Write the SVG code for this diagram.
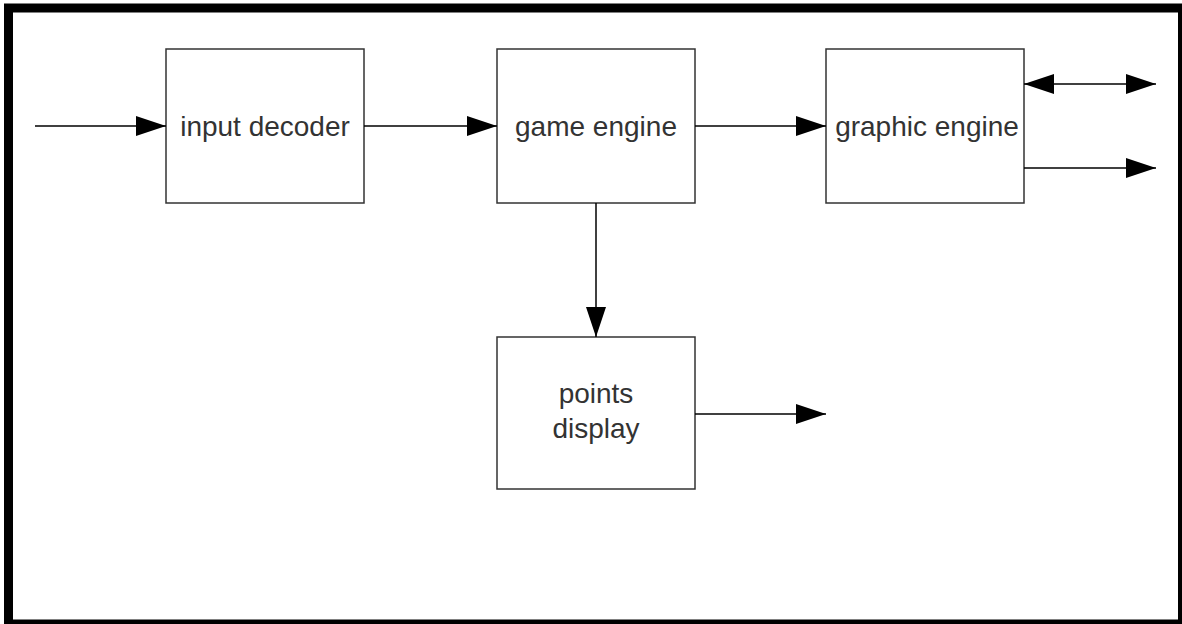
<svg xmlns="http://www.w3.org/2000/svg" width="1182" height="624" viewBox="0 0 1182 624">
<style>
.frame{fill:#fff;stroke:#000;stroke-width:9}
.box{fill:#fff;stroke:#333;stroke-width:1.5}
.lbl{font-family:"Liberation Sans",Arial,sans-serif;font-size:28px;fill:#333;text-anchor:middle}
.conn{stroke:#000;stroke-width:1.5;fill:none}
</style>
<defs>
<marker id="ah" markerUnits="userSpaceOnUse" markerWidth="30" markerHeight="20" refX="30" refY="10" orient="auto-start-reverse">
<path d="M0,0 L30,10 L0,20 Z" fill="#000"/>
</marker>
</defs>
<rect class="frame" x="8.5" y="8" width="1174" height="616"/>
<g id="input-decoder">
<rect class="box" x="166" y="49" width="198" height="154"/>
<text class="lbl" x="265" y="136">input decoder</text>
</g>
<g id="game-engine">
<rect class="box" x="497" y="49" width="198" height="154"/>
<text class="lbl" x="596" y="136">game engine</text>
</g>
<g id="graphic-engine">
<rect class="box" x="826" y="49" width="198" height="154"/>
<text class="lbl" x="927" y="136">graphic engine</text>
</g>
<g id="points-display">
<rect class="box" x="497" y="337" width="198" height="152"/>
<text class="lbl" x="596" y="403">points</text>
<text class="lbl" x="596" y="438">display</text>
</g>
<g id="connectors">
<line class="conn" x1="35" y1="126" x2="166" y2="126" marker-end="url(#ah)"/>
<line class="conn" x1="364" y1="126" x2="497" y2="126" marker-end="url(#ah)"/>
<line class="conn" x1="695" y1="126" x2="826" y2="126" marker-end="url(#ah)"/>
<line class="conn" x1="1024" y1="84" x2="1156" y2="84" marker-start="url(#ah)" marker-end="url(#ah)"/>
<line class="conn" x1="1024" y1="168" x2="1156" y2="168" marker-end="url(#ah)"/>
<line class="conn" x1="596" y1="203" x2="596" y2="337" marker-end="url(#ah)"/>
<line class="conn" x1="695" y1="414" x2="826" y2="414" marker-end="url(#ah)"/>
</g>
</svg>
